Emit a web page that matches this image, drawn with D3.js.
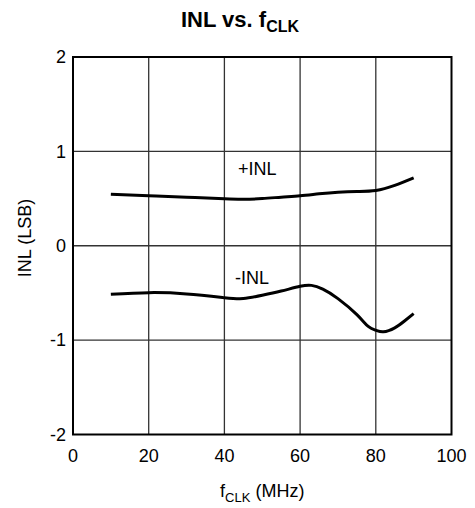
<!DOCTYPE html>
<html>
<head>
<meta charset="utf-8" />
<script src="https://d3js.org/d3.v7.min.js"></script>
<style>
body { margin: 0; background: #fff; }
text { font-family: "Liberation Sans", Arial, sans-serif; fill: #000; }
.grid line { stroke: #333; stroke-width: 1.3px; }
.curve { fill: none; stroke: #000; stroke-width: 3px; }
</style>
</head>
<body>
<script>
// data
var freqPos = [10, 20, 30, 40, 45, 50, 55, 60, 65, 70, 75, 80, 85, 90];
var inlPos = [0.545, 0.53, 0.515, 0.497, 0.492, 0.5, 0.515, 0.53, 0.55, 0.567, 0.575, 0.585, 0.64, 0.72];
var freqNeg = [10, 20, 30, 40, 45, 50, 55, 60, 63, 66, 70, 75, 78, 80, 82, 85, 87.5, 90];
var inlNeg = [-0.514, -0.497, -0.51, -0.55, -0.56, -0.525, -0.48, -0.43, -0.42, -0.46, -0.56, -0.73, -0.855, -0.895, -0.912, -0.87, -0.8, -0.72];
var xTicks = [0, 20, 40, 60, 80, 100];
var yTicks = [-2, -1, 0, 1, 2];

var margin = {top: 57, left: 73},
    width = 378.5,
    height = 377.5;

var svg = d3.select("body").append("svg")
    .attr("width", 475)
    .attr("height", 508);

var g = svg.append("g")
    .attr("transform", "translate(" + margin.left + "," + margin.top + ")");

var x = d3.scaleLinear().domain([0, 100]).range([0, width]);
var y = d3.scaleLinear().domain([-2, 2]).range([height, 0]);

// grid lines
var grid = g.append("g").attr("class", "grid");
grid.selectAll(".vx")
    .data(xTicks.slice(1, -1))
  .enter().append("line")
    .attr("x1", function(d) { return x(d); })
    .attr("x2", function(d) { return x(d); })
    .attr("y1", 0).attr("y2", height);
grid.selectAll(".hy")
    .data(yTicks.slice(1, -1))
  .enter().append("line")
    .attr("y1", function(d) { return y(d); })
    .attr("y2", function(d) { return y(d); })
    .attr("x1", 0).attr("x2", width);

// frame
g.append("rect")
    .attr("width", width).attr("height", height)
    .style("fill", "none").style("stroke", "#000").style("stroke-width", "2px");

// tick labels
g.selectAll(".xt")
    .data(xTicks)
  .enter().append("text")
    .attr("x", function(d) { return x(d); })
    .attr("y", height + 27)
    .attr("text-anchor", "middle")
    .style("font-size", "18px")
    .text(function(d) { return d; });

g.selectAll(".yt")
    .data(yTicks)
  .enter().append("text")
    .attr("x", -7)
    .attr("y", function(d) { return y(d); })
    .attr("dy", "0.35em")
    .attr("text-anchor", "end")
    .style("font-size", "18px")
    .text(function(d) { return d; });

// curves
var line = d3.line()
    .x(function(d) { return x(d[0]); })
    .y(function(d) { return y(d[1]); })
    .curve(d3.curveNatural);

g.append("path").attr("class", "curve")
    .attr("d", line(d3.zip(freqPos, inlPos)));
g.append("path").attr("class", "curve")
    .attr("d", line(d3.zip(freqNeg, inlNeg)));

g.append("text")
    .attr("x", x(43.6)).attr("y", y(0.75))
    .style("font-size", "18px")
    .text("+INL");
g.append("text")
    .attr("x", x(42.8)).attr("y", y(-0.40))
    .style("font-size", "18px")
    .text("-INL");

// title
var title = svg.append("text")
    .attr("x", 240).attr("y", 27)
    .attr("text-anchor", "middle")
    .style("font-size", "22px")
    .style("font-weight", "bold");
title.append("tspan").text("INL vs. f");
title.append("tspan").attr("dy", 5).style("font-size", "16px").text("CLK");

// x axis title
var xl = svg.append("text")
    .attr("x", margin.left + width / 2).attr("y", 497)
    .attr("text-anchor", "middle")
    .style("font-size", "18px");
xl.append("tspan").text("f");
xl.append("tspan").attr("dy", 5).style("font-size", "13px").text("CLK");
xl.append("tspan").attr("dy", -5).text(" (MHz)");

// y axis title
svg.append("text")
    .attr("transform", "translate(31,238) rotate(-90)")
    .attr("text-anchor", "middle")
    .style("font-size", "18px")
    .text("INL (LSB)");
</script>
</body>
</html>
